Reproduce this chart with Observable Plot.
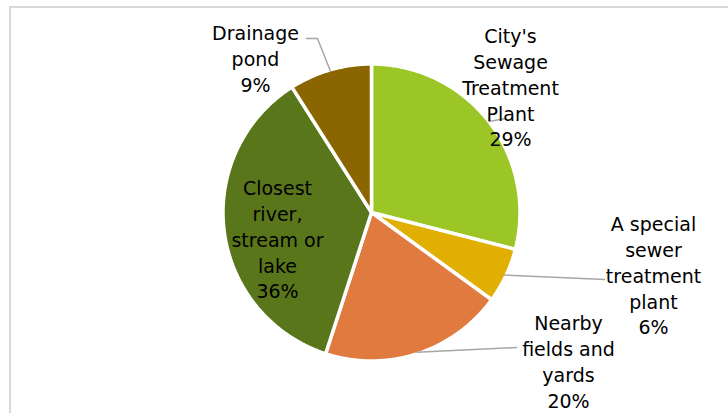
<!DOCTYPE html>
<html>
<head>
<meta charset="utf-8">
<script src="https://cdn.jsdelivr.net/npm/d3@7"></script>
<script src="https://cdn.jsdelivr.net/npm/@observablehq/plot@0.6"></script>
<style>
  html, body { margin: 0; padding: 0; background: #fff; }
  #wrap { position: relative; width: 728px; height: 413px; overflow: hidden; }
  #frame { position: absolute; left: 9px; top: 6px; width: 760px; height: 460px;
           border-top: 2px solid #d9d9d9; border-left: 2px solid #d9d9d9; box-sizing: border-box; }
  #chart { position: absolute; left: 0; top: 0; }
</style>
</head>
<body>
<div id="wrap"><div id="frame"></div><div id="chart"></div></div>
<script>
// ---- data ----
const categories = ["City's Sewage Treatment Plant", "A special sewer treatment plant", "Nearby fields and yards", "Closest river, stream or lake", "Drainage pond"];
const values = [29, 6, 20, 36, 9];
const labelLines = [
  ["City's", "Sewage", "Treatment", "Plant"],
  ["A special", "sewer", "treatment", "plant"],
  ["Nearby", "fields and", "yards"],
  ["Closest", "river,", "stream or", "lake"],
  ["Drainage", "pond"]
];
const colors = ["#9cc526", "#e1ae02", "#e07a3e", "#5a761a", "#8a6500"];

// ---- layout ----
const W = 728, H = 413, CX = 371, CY = 212, R = 148.5;
const labelPx = [[510, 86], [653, 274], [568, 360], [277, 238], [255, 57]];
const toU = ([px, py]) => [(px - CX) / R, (py - CY) / R];

const pie = d3.pie().sort(null).value(d => d.value)(categories.map((c, i) => ({name: c, value: values[i]})));
const pt = (a, r = 1) => [r * Math.sin(a), -r * Math.cos(a)];

// slice polygons
const slicePts = [];
pie.forEach(s => {
  const n = Math.max(4, Math.ceil((s.endAngle - s.startAngle) / 0.01));
  slicePts.push({name: s.data.name, x: 0, y: 0});
  for (let k = 0; k <= n; k++) {
    const a = s.startAngle + (s.endAngle - s.startAngle) * k / n;
    const [x, y] = pt(a);
    slicePts.push({name: s.data.name, x, y});
  }
  slicePts.push({name: s.data.name, x: 0, y: 0});
});

// labels
const labels = pie.map((s, i) => {
  const [x, y] = toU(labelPx[i]);
  return {x, y, text: labelLines[i].join("\n") + "\n" + values[i] + "%"};
});

// leader lines: from slice mid-angle on the arc to label
const mid = s => (s.startAngle + s.endAngle) / 2;
const leaders = [];
const addLeader = (id, pts) => pts.forEach(p => leaders.push({id, x: p[0], y: p[1]}));
addLeader(0, [pt(mid(pie[0])), toU([505, 118])]);
addLeader(1, [pt(mid(pie[1]), 0.99), toU([604, 279])]);
addLeader(2, [pt(mid(pie[2]), 0.99), toU([516, 347])]);
addLeader(4, [pt(mid(pie[4]), 0.99), toU([317, 38]), toU([306, 38])]);

const chart = Plot.plot({
  width: W, height: H,
  margin: 0,
  x: {domain: [-CX / R, (W - CX) / R], range: [0, W], axis: null},
  y: {domain: [-CY / R, (H - CY) / R], range: [0, H], axis: null},
  color: {domain: categories, range: colors},
  style: {background: "transparent", fontFamily: "DejaVu Sans, sans-serif"},
  marks: [
    Plot.line(slicePts, {x: "x", y: "y", z: "name", fill: "name", stroke: "white", strokeWidth: 3.5, strokeLinejoin: "round", curve: "linear"}),
    Plot.line(leaders, {x: "x", y: "y", z: "id", stroke: "#a6a6a6", strokeWidth: 1.5}),
    Plot.text(labels, {x: "x", y: "y", text: "text", fontSize: 19, lineHeight: 1.36, fill: "#000", textAnchor: "middle"})
  ]
});
document.getElementById("chart").appendChild(chart);
</script>
</body>
</html>
